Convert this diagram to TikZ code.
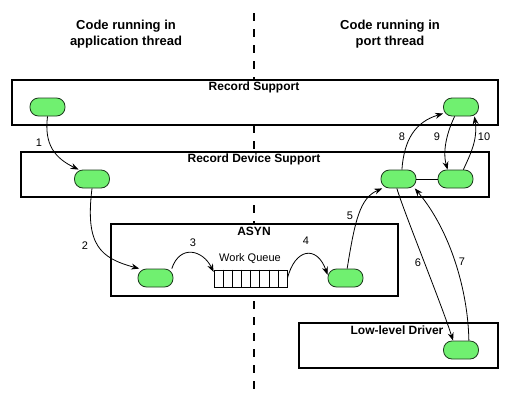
\documentclass[tikz,border=0pt]{standalone}
\usepackage{fontspec}
\setmainfont{Liberation Sans}
\usetikzlibrary{arrows.meta,calc}
\definecolor{pillgreen}{RGB}{112,240,112}
\definecolor{pilledge}{RGB}{30,60,30}
\begin{document}
\begin{tikzpicture}[x=1pt,y=-1pt,
  layerbox/.style={draw=black,line width=1.3pt,fill=white,inner sep=0pt},
  pill/.style={draw=pilledge,line width=0.8pt,fill=pillgreen,rounded corners=8.5pt,minimum width=35pt,minimum height=18pt,inner sep=0pt},
  boxtitle/.style={font=\bfseries\fontsize{12}{14}\selectfont,inner sep=0pt},
  headtext/.style={font=\bfseries\fontsize{13}{16.5}\selectfont,align=center,inner sep=0pt},
  numlbl/.style={font=\fontsize{11}{13}\selectfont,inner sep=0pt},
  flow/.style={line width=0.8pt,-{Stealth[length=8pt,width=6pt]}},
  divider/.style={line width=2pt,dash pattern=on 8pt off 8pt}
]
\useasboundingbox (0,0) rectangle (509,407);
% divider
\coordinate (dtop) at (254,13);
\coordinate (dbot) at (254,390);
\draw[divider] (dtop) -- (dbot);
% headers
\node[headtext] (h1) at (126,34) {Code running in\\application thread};
\node[headtext] (h2) at (390,34) {Code running in\\port thread};
% layer boxes
\node[layerbox,minimum width=486pt,minimum height=45pt] (rs) at (255,102.5) {};
\node[boxtitle] (rst) at (254,87) {Record Support};
\node[layerbox,minimum width=468pt,minimum height=45pt] (rds) at (255,174.5) {};
\node[boxtitle] (rdst) at (254,159) {Record Device Support};
\node[layerbox,minimum width=287pt,minimum height=72pt] (asyn) at (254.5,260) {};
\node[boxtitle] (asynt) at (254,231) {ASYN};
\node[layerbox,minimum width=199pt,minimum height=45pt] (lld) at (398.5,345.5) {};
\node[boxtitle] (lldt) at (397,330) {Low-level Driver};
% pills
\node[pill] (n1) at (47.5,107) {};
\node[pill] (nTR) at (461,107) {};
\node[pill] (nA2) at (92,179) {};
\node[pill] (nR1) at (398.5,179) {};
\node[pill] (nR2) at (455.5,179) {};
\node[pill] (nA3) at (155.5,278) {};
\node[pill] (nA4) at (345.5,278) {};
\node[pill] (nD) at (461,350) {};
% work queue
\node[draw=black,line width=0.8pt,fill=white,minimum width=73pt,minimum height=17pt,inner sep=0pt] (q) at (250.5,278.5) {};
\foreach \i in {1,...,7}{
  \draw[line width=0.6pt] ($(q.north west)!\i/8!(q.north east)$) -- ($(q.south west)!\i/8!(q.south east)$);
}
\node[numlbl] (wq) at (250,259) {Work Queue};
% connectors
\draw[flow] (n1.south) .. controls (44,145) and (55,158) .. (nA2.145);
\draw[flow] (nA2.south) .. controls (85,245) and (100,258) .. (nA3.150);
\draw[flow] (nA3.30) .. controls (180,244) and (203,250) .. (q.170);
\draw[flow] (q.east) .. controls (295,248) and (317,245) .. (nA4.170);
\draw[flow] (nA4.80) .. controls (355,220) and (360,198) .. (nR1.210);
\draw[flow] (nR1.-100) .. controls (405,215) and (440,300) .. (nD.130);
\draw[flow] (nD.50) .. controls (468,290) and (450,230) .. (nR1.-30);
\draw[flow] (nR1.70) .. controls (404,140) and (415,122) .. (nTR.200);
\draw[flow] (nTR.-124) .. controls (448,130) and (442,150) .. (nR2.130);
\draw[flow] (nR2.50) .. controls (470,155) and (478,140) .. (nTR.-35);
\draw[line width=0.8pt] (nR1.east) -- (nR2.west);
% labels
\node[numlbl] (l1) at (39,143) {1};
\node[numlbl] (l2) at (85,246) {2};
\node[numlbl] (l3) at (193,243) {3};
\node[numlbl] (l4) at (306,241) {4};
\node[numlbl] (l5) at (350,216) {5};
\node[numlbl] (l6) at (418,263) {6};
\node[numlbl] (l7) at (462,262) {7};
\node[numlbl] (l8) at (402,137) {8};
\node[numlbl] (l9) at (437,137) {9};
\node[numlbl] (l10) at (484,137) {10};
\end{tikzpicture}
\end{document}
